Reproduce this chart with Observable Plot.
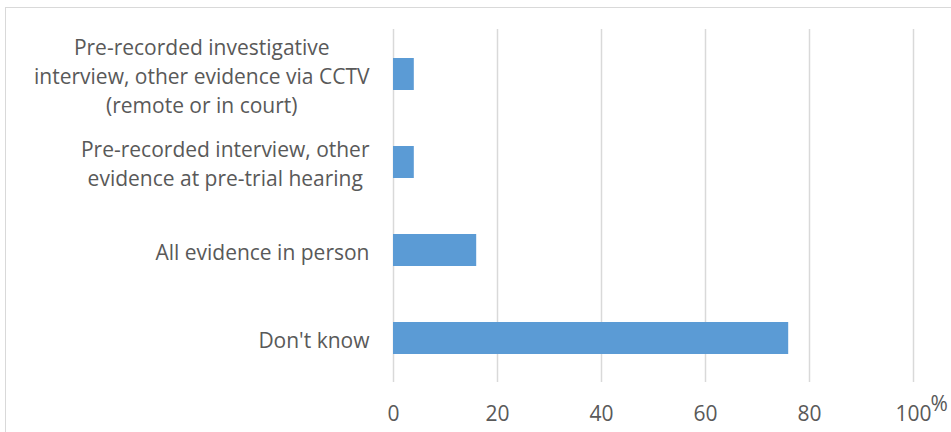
<!DOCTYPE html>
<html>
<head>
<meta charset="utf-8">
<script src="https://cdn.jsdelivr.net/npm/d3@7"></script>
<script src="https://cdn.jsdelivr.net/npm/@observablehq/plot@0.6"></script>
<style>
  html, body { margin: 0; padding: 0; background: #fff; overflow: hidden; }
  #wrap { position: relative; width: 951px; height: 432px; }
  #frame { position: absolute; left: 5px; top: 7px; width: 1000px; height: 500px; border: 1.5px solid #d9d9d9; box-sizing: border-box; }
  #chart { position: absolute; left: 0; top: 0; }
</style>
</head>
<body>
<div id="wrap"><div id="frame"></div><div id="chart"></div></div>
<script>
const categories = [
  "Pre-recorded investigative interview, other evidence via CCTV (remote or in court)",
  "Pre-recorded interview, other evidence at pre-trial hearing",
  "All evidence in person",
  "Don't know"
];
const tickLabels = [
  "Pre-recorded investigative\ninterview, other evidence via CCTV\n(remote or in court)",
  "Pre-recorded interview, other\nevidence at pre-trial hearing",
  "All evidence in person",
  "Don't know"
];
const values = [4, 4, 16, 76];
const xTicks = [0, 20, 40, 60, 80, 100];

const data = categories.map((c, i) => ({category: c, value: values[i]}));
const labelOf = new Map(categories.map((c, i) => [c, tickLabels[i]]));
const fontSize = 21;

const plot = Plot.plot({
  width: 951,
  height: 432,
  marginLeft: 393,
  marginRight: 38,
  marginTop: 29,
  marginBottom: 50,
  style: {fontFamily: "'Open Sans', sans-serif", fontSize: fontSize + "px", color: "#595959", background: "transparent"},
  x: {domain: [0, 100], label: null},
  y: {domain: categories, paddingInner: 0.637, paddingOuter: 0.3185, label: null},
  marks: [
    Plot.gridX(xTicks, {stroke: "#d9d9d9", strokeOpacity: 1, strokeWidth: 1.5}),
    Plot.barX(data, {x: "value", y: "category", fill: "#5b9bd5"}),
    Plot.axisX(xTicks, {tickSize: 0, tickPadding: 24, label: null, fontSize: fontSize, fill: "#595959"}),
    Plot.axisY({tickSize: 0, tickPadding: 24, label: null, tickFormat: d => labelOf.get(d), lineHeight: 29 / fontSize, fill: "#595959"}),
    Plot.text(["%"], {x: () => 100, frameAnchor: "bottom", dx: 17, dy: 28, textAnchor: "start", fontSize: fontSize, fill: "#595959"})
  ]
});
document.getElementById("chart").appendChild(plot);

// center multi-line y labels within their block, keeping block right-aligned
plot.querySelectorAll('g[aria-label="y-axis tick label"] text').forEach(t => {
  const spans = t.querySelectorAll("tspan");
  if (!spans.length) return;
  let maxW = 0;
  spans.forEach(s => { maxW = Math.max(maxW, s.getComputedTextLength()); });
  t.setAttribute("text-anchor", "middle");
  spans.forEach(s => s.setAttribute("x", -maxW / 2));
});
</script>
</body>
</html>
